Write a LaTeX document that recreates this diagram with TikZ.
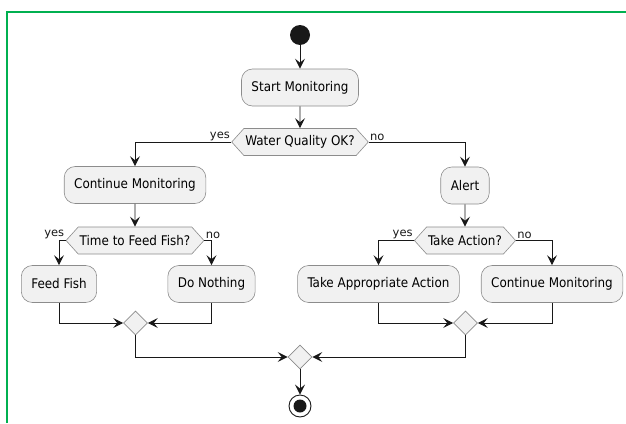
\documentclass[tikz,border=0pt]{standalone}
\usepackage{fontspec}
\setmainfont{DejaVu Sans}
\newfontfamily\condfont{DejaVu Sans Condensed}
\usetikzlibrary{arrows.meta,positioning,shapes.geometric,shapes.symbols}
\definecolor{actfill}{HTML}{F1F1F1}
\definecolor{actline}{HTML}{181818}
\definecolor{framegreen}{HTML}{00B050}

\begin{document}
\begin{tikzpicture}[x=1pt,y=-1pt,font=\condfont\fontsize{13.3}{15}\selectfont,>={Stealth[length=10pt,width=10pt,inset=4pt]},
 act/.style={draw=black!45,line width=0.6pt,fill=actfill,rounded corners=11pt,minimum height=37pt,inner xsep=10pt},
 ask/.style={signal,signal to=west and east,signal pointer angle=96,draw=black!45,line width=0.6pt,fill=actfill,minimum height=27pt,inner xsep=1.5pt,inner ysep=0pt},
 merge/.style={diamond,draw=black!45,line width=0.6pt,fill=actfill,minimum size=24pt,inner sep=0pt},
 guard/.style={font=\fontsize{11.5}{13}\selectfont,inner sep=1pt},
 flow/.style={->,line width=0.9pt,actline}]
\useasboundingbox (0,0) rectangle (626,423);
\draw[framegreen,line width=2pt] (7,423) -- (7,12) -- (626,12);

\node[circle,fill=actline,minimum size=20pt,inner sep=0pt] (start) at (300,35) {};
\node[act] (startmon) at (300,87.5) {Start Monitoring};
\node[ask] (water) at (300,142) {Water Quality OK?};
\draw[flow] (start) -- (startmon);
\draw[flow] (startmon) -- (water);

% left branch
\node[act] (contA) at (135,185) {Continue Monitoring};
\node[ask] (feedq) at (135,240.5) {Time to Feed Fish?};
\node[act] (feed) at (59,284) {Feed Fish};
\node[act] (idle) at (211.5,284) {Do Nothing};
\node[merge] (mergeA) at (135.5,323) {};
\draw[flow] (water.west) -| node[guard,pos=0,anchor=south east]{yes} (contA);
\draw[flow] (contA) -- (feedq);
\draw[flow] (feedq.west) -| node[guard,pos=0,anchor=south east]{yes} (feed);
\draw[flow] (feedq.east) -| node[guard,pos=0,anchor=south west]{no} (idle);
\draw[flow] (feed) |- (mergeA);
\draw[flow] (idle) |- (mergeA);

% right branch
\node[act] (alert) at (465,185.5) {Alert};
\node[ask] (actq) at (465,240.5) {Take Action?};
\node[act] (handle) at (378.5,284) {Take Appropriate Action};
\node[act] (contB) at (552,284) {Continue Monitoring};
\node[merge] (mergeB) at (465.5,323) {};
\draw[flow] (water.east) -| node[guard,pos=0,anchor=south west]{no} (alert);
\draw[flow] (alert) -- (actq);
\draw[flow] (actq.west) -| node[guard,pos=0,anchor=south east]{yes} (handle);
\draw[flow] (actq.east) -| node[guard,pos=0,anchor=south west]{no} (contB);
\draw[flow] (handle) |- (mergeB);
\draw[flow] (contB) |- (mergeB);

% join and end
\node[merge] (mergeC) at (300,357) {};
\node[circle,draw=actline,line width=0.9pt,minimum size=22pt,inner sep=0pt] (stop) at (300,406) {};
\node[circle,fill=actline,minimum size=13pt,inner sep=0pt] (stopdot) at (stop) {};
\draw[flow] (mergeA) |- (mergeC);
\draw[flow] (mergeB) |- (mergeC);
\draw[flow] (mergeC) -- (stop);
\end{tikzpicture}
\end{document}
